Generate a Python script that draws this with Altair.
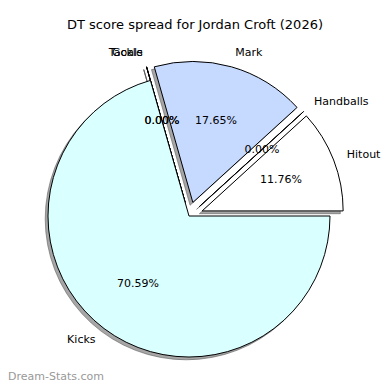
import altair as alt
import pandas as pd

categories = ["Hitout", "Handballs", "Mark", "Tackle", "Goals", "Kicks"]
values = [2, 0, 3, 0, 0, 12]
explode = [0.1, 0.1, 0.1, 0.1, 0.1, 0.0]
colors = ["#FFFFFF", "#FFFFFF", "#C6D9FF", "#FFFFFF", "#FFFFFF", "#D9FFFF"]
title_text = ["DT score spread for Jordan Croft (2026)"]
watermark = ["Dream-Stats.com"]

df = pd.DataFrame({
    "cat": categories,
    "val": values,
    "explode": explode,
    "color": colors,
    "order": list(range(len(categories))),
})

# layout constants (chart coordinates; page margin is 8px)
CX, CY, R = 181, 208, 141
SH = 2.8  # shadow offset

base = (
    alt.Chart(df)
    .transform_joinaggregate(total="sum(val)")
    .transform_window(cum="sum(val)", sort=[alt.SortField("order")], frame=[None, 0])
    .transform_calculate(
        a1="2*PI*(datum.cum - datum.val)/datum.total",
        a2="2*PI*datum.cum/datum.total",
    )
    .transform_calculate(
        mid="(datum.a1 + datum.a2)/2",
        t1="PI/2 - datum.a2",
        t2="PI/2 - datum.a1",
    )
    .transform_calculate(
        cx=f"{CX} + datum.explode*{R}*cos(datum.mid)",
        cy=f"{CY} - datum.explode*{R}*sin(datum.mid)",
    )
    .transform_calculate(
        sx=f"datum.cx - {SH}",
        sy=f"datum.cy + {SH}",
        lx=f"datum.cx + 1.1*{R}*cos(datum.mid)",
        ly=f"datum.cy - 1.1*{R}*sin(datum.mid)",
        px=f"datum.cx + 0.6*{R}*cos(datum.mid)",
        py=f"datum.cy - 0.6*{R}*sin(datum.mid)",
        pct="format(100*datum.val/datum.total, '.2f') + '%'",
        side="cos(datum.mid) > 0 ? 'L' : 'R'",
    )
)

shadow = base.mark_arc(
    radius=R, fill="#4D4D4D", fillOpacity=0.5, stroke="#4D4D4D",
    strokeOpacity=0.5, strokeWidth=1,
).encode(
    x=alt.X("sx:Q", scale=None),
    y=alt.Y("sy:Q", scale=None),
    theta=alt.Theta("t1:Q", scale=None),
    theta2=alt.Theta2("t2:Q"),
)

wedges = base.mark_arc(radius=R, stroke="black", strokeWidth=1).encode(
    x=alt.X("cx:Q", scale=None),
    y=alt.Y("cy:Q", scale=None),
    theta=alt.Theta("t1:Q", scale=None),
    theta2=alt.Theta2("t2:Q"),
    fill=alt.Fill("color:N", scale=None),
)

font = "DejaVu Sans"

labels_left = base.transform_filter("datum.side == 'L'").mark_text(
    align="left", baseline="middle", font=font, fontSize=11, color="black"
).encode(x=alt.X("lx:Q", scale=None), y=alt.Y("ly:Q", scale=None), text="cat:N")

labels_right = base.transform_filter("datum.side == 'R'").mark_text(
    align="right", baseline="middle", font=font, fontSize=11, color="black"
).encode(x=alt.X("lx:Q", scale=None), y=alt.Y("ly:Q", scale=None), text="cat:N")

pcts = base.mark_text(
    align="center", baseline="middle", font=font, fontSize=11, color="black"
).encode(x=alt.X("px:Q", scale=None), y=alt.Y("py:Q", scale=None), text="pct:N")

title = alt.Chart(pd.DataFrame({"t": title_text})).mark_text(
    align="center", baseline="middle", font=font, fontSize=13, color="black"
).encode(x=alt.value(187), y=alt.value(17), text="t:N")

wm = alt.Chart(pd.DataFrame({"t": watermark})).mark_text(
    align="left", baseline="alphabetic", font=font, fontSize=11, color="#999999"
).encode(x=alt.value(0), y=alt.value(372), text="t:N")

chart = alt.layer(shadow, wedges, labels_left, labels_right, pcts, title, wm).properties(
    width=374, height=374, autosize=alt.AutoSizeParams(type="none"), padding=0
).configure_view(stroke=None)

chart.save("out.html", embed_options={"renderer": "svg", "actions": False})
